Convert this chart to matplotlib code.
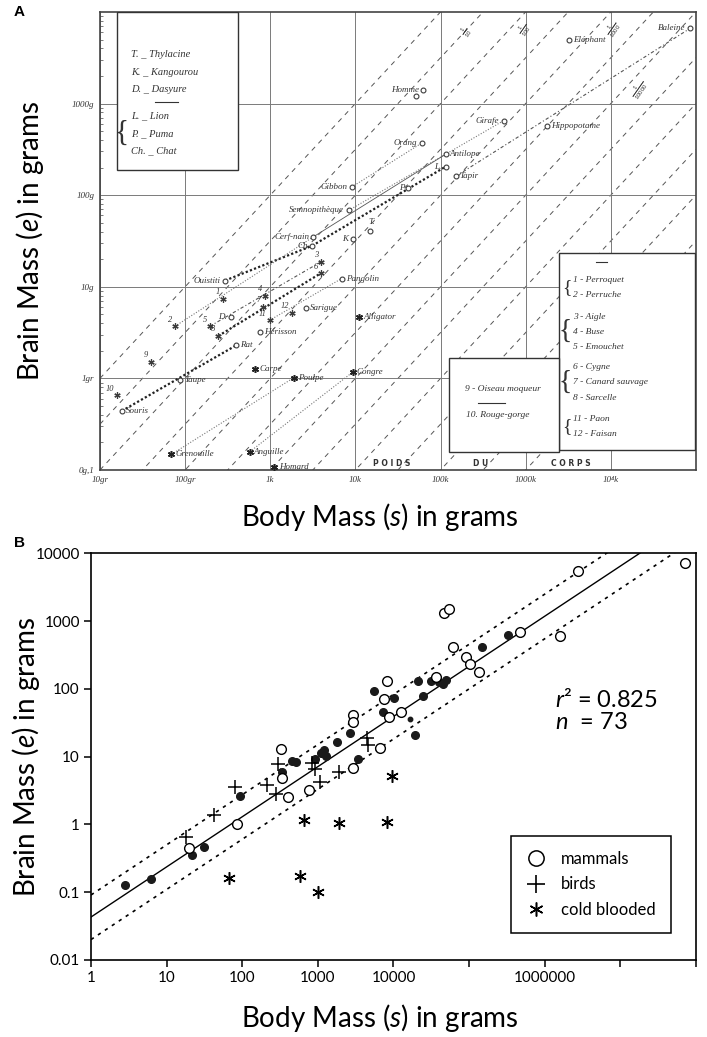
import numpy as np
import matplotlib.pyplot as plt
from matplotlib.lines import Line2D
from matplotlib.patches import Rectangle
from matplotlib.ticker import NullLocator, LogLocator

plt.rcParams['font.family'] = ['Lato', 'DejaVu Sans']
plt.rcParams['mathtext.fontset'] = 'custom'
plt.rcParams['mathtext.rm'] = 'Lato'
plt.rcParams['mathtext.it'] = 'Lato:italic'

# ---------------- Panel A : Dubois hand drawn chart ----------------
a_xticks = [10, 100, 1e3, 1e4, 1e5, 1e6, 1e7]
a_xtick_labels = ['10gr', '100gr', '1k', '10k', '100k', '1000k', '10⁴k']
a_yticks = [0.1, 1, 10, 100, 1000]
a_ytick_labels = ['0g,1', '1gr', '10g', '100g', '1000g']

mam_names = ['Baleine', 'Eléphant', 'Homme', '', 'Girafe', 'Hippopotame', 'Orang',
             'Antilope', 'L.', 'Tapir', 'Gibbon', 'P', 'Semnopithèque', 'T.', 'K',
             'Cerf-nain', 'Ch', 'Pangolin', 'Ouistiti', 'D.', 'Sarigue', 'Hérisson',
             'Rat', 'Taupe', 'Souris']
mam_body = [8.5e7, 3.2e6, 63000, 52000, 550000, 1.8e6, 60000, 115000, 115000, 150000,
            9100, 42000, 8300, 15000, 9300, 3200, 3100, 6900, 295, 350, 2600, 760,
            400, 87, 18]
mam_brain = [6600, 5000, 1410, 1200, 650, 575, 370, 280, 205, 160, 123, 120, 68, 41,
             33, 35, 28, 12.3, 11.7, 4.7, 5.9, 3.2, 2.3, 0.95, 0.44]

bird_names = ['1', '2', '3', '4', '5', '6', '7', '8', '9', '10', '11', '12']
bird_body = [275, 76, 3900, 870, 195, 3900, 830, 245, 40, 16, 980, 1800]
bird_brain = [7.4, 3.7, 18.6, 7.9, 3.7, 14, 6.0, 2.9, 1.5, 0.65, 4.3, 5.2]

cold_names = ['Alligator', 'Carpe', 'Poulpe', 'Congre', 'Grenouille', 'Anguille', 'Homard']
cold_body = [11000, 660, 1900, 9300, 69, 575, 1120]
cold_brain = [4.7, 1.26, 1.02, 1.17, 0.148, 0.158, 0.107]

ratio_logs = [-1, -1.5, -2, -2.5, -3, -3.5, -4, -4.5, -5, -5.5, -6, -6.5, -7]
ratio_labels = [r'$\frac{1}{10}$', r'$\frac{1}{100}$', r'$\frac{1}{1000}$', r'$\frac{1}{10000}$']

legend1_lines = ['T. _ Thylacine', 'K. _ Kangourou', 'D. _ Dasyure',
                 'L. _ Lion', 'P. _ Puma', 'Ch. _ Chat']
legend2_lines = ['1 - Perroquet', '2 - Perruche', '3 - Aigle', '4 - Buse', '5 - Emouchet',
                 '6 - Cygne', '7 - Canard sauvage', '8 - Sarcelle', '11 - Paon', '12 - Faisan']
legend3_lines = ['9 - Oiseau moqueur', '10. Rouge-gorge']

# ---------------- Panel B : scatter ----------------
open_body = [20, 86, 330, 340, 400, 760, 2900, 2950, 2900, 6700, 7400, 8100, 8700,
             12600, 36000, 46000, 55000, 61000, 91000, 103000, 135000, 470000,
             1.58e6, 2.75e6, 7.2e7]
open_brain = [0.45, 1.0, 13, 4.9, 2.5, 3.2, 6.7, 41, 32, 13.5, 72, 133, 38,
              45, 148, 1300, 1500, 415, 294, 230, 178, 700,
              605, 5600, 7300]

fill_body = [2.8, 6.2, 21.5, 31, 93, 340, 450, 510, 910, 1100, 1200, 1300, 1800, 2700,
             3400, 5500, 7200, 10200, 19500, 21400, 24500, 31000, 40500, 45000, 50000,
             148000, 326000]
fill_brain = [0.128, 0.155, 0.36, 0.46, 2.6, 6.0, 8.6, 8.3, 9.4, 11.2, 12.5, 10.3, 16.5, 22,
              9.2, 93, 45, 74, 21, 132, 80, 129, 125, 118, 137,
              410, 630]
small_body = [16600]
small_brain = [36]

birdB_body = [18, 42, 81, 210, 277, 294, 830, 910, 1070, 1900, 4500, 4600]
birdB_brain = [0.645, 1.4, 3.6, 3.8, 2.8, 7.9, 8.2, 6.6, 4.2, 6.0, 19, 15]

coldB_body = [67, 575, 1000, 660, 1900, 8100, 9500]
coldB_brain = [0.16, 0.174, 0.10, 1.16, 1.06, 1.1, 5.2]

fit_a, fit_b = 0.043, 0.74
band_upper, band_lower = 0.091, 0.020
b_xtick_labels = ['1', '10', '100', '1000', '10000', '', '1000000', '', '']
b_ytick_labels = ['0.01', '0.1', '1', '10', '100', '1000', '10000']

HAND = dict(family=['Liberation Serif', 'DejaVu Serif'], style='italic', color='#333333')
INK = '#3c3c3c'

fig = plt.figure(figsize=(7.07, 10.37), dpi=100)
axA = fig.add_axes([0.1414, 0.5468, 0.8430, 0.4417])
axB = fig.add_axes([0.1287, 0.0743, 0.8557, 0.3920])

# ---- panel A
axA.set_xscale('log')
axA.set_yscale('log')
axA.set_xlim(10, 1e8)
axA.set_ylim(0.1, 1e4)
axA.set_xticks(a_xticks)
axA.set_xticklabels(a_xtick_labels, fontsize=6.5, **HAND)
axA.set_yticks(a_yticks)
axA.set_yticklabels(a_ytick_labels, fontsize=6.5, **HAND)
axA.xaxis.set_minor_locator(NullLocator())
axA.yaxis.set_minor_locator(LogLocator(subs=np.arange(2, 10)))
axA.yaxis.set_minor_formatter(plt.NullFormatter())
axA.tick_params(which='major', length=0, pad=4)
axA.tick_params(axis='y', which='minor', direction='in', length=2, width=0.6, color='#666')
axA.grid(True, which='major', color='#7a7a7a', lw=0.7)
for s in axA.spines.values():
    s.set_color('#444')
    s.set_linewidth(1.2)

xx = np.array([10, 1e8])
for r in ratio_logs:
    axA.plot(xx, xx * 10 ** r, ls=(0, (5, 5)), lw=0.7, color='#555', zorder=1)

pts = {}
for n, x, y in zip(mam_names, mam_body, mam_brain):
    pts[n] = (x, y)
for n, x, y in zip(bird_names, bird_body, bird_brain):
    pts[n] = (x, y)
for n, x, y in zip(cold_names, cold_body, cold_brain):
    pts[n] = (x, y)

# lines joining related species
links = [('Souris', 'Rat', 'heavy'), ('8', '6', 'heavy'), ('Ouistiti', 'Ch', 'heavy'),
         ('Ch', 'L.', 'heavy'), ('Gibbon', 'Orang', 'light'),
         ('Semnopithèque', 'Girafe', 'light'), ('2', 'Cerf-nain', 'light'),
         ('11', 'Pangolin', 'light'), ('Anguille', 'Congre', 'light'),
         ('Grenouille', 'Poulpe', 'light'), ('Cerf-nain', 'Antilope', 'thin'),
         ('Tapir', 'Baleine', 'dashdot'), ('5', '3', 'dashdot')]
styles = {'heavy': dict(ls=(0, (1, 1)), lw=1.6, color='#222'),
          'light': dict(ls=(0, (1, 1.5)), lw=0.8, color='#777'),
          'thin': dict(ls='-', lw=0.6, color='#555'),
          'dashdot': dict(ls=(0, (3, 2, 1, 2)), lw=0.8, color='#555')}
for a, b, st in links:
    axA.plot([pts[a][0], pts[b][0]], [pts[a][1], pts[b][1]], zorder=2, **styles[st])

axA.plot(mam_body, mam_brain, 'o', ms=3.5, mfc='white', mec=INK, mew=0.8, zorder=4)
axA.plot(bird_body, bird_brain, ls='', marker=(6, 2, 0), ms=4.5, mec=INK, mew=0.9, zorder=4)
axA.plot(cold_body, cold_brain, ls='', marker=(6, 2, 0), ms=5, mec='#222', mew=1.1, zorder=4)

right_side = ['Eléphant', 'Hippopotame', 'Antilope', 'Tapir', 'Pangolin', 'Sarigue',
              'Hérisson', 'Rat', 'Taupe', 'Souris']
top_side = ['T.']
for n in mam_names:
    if not n:
        continue
    x, y = pts[n]
    if n in right_side:
        axA.annotate(n, (x, y), xytext=(3, 0), textcoords='offset points',
                     ha='left', va='center', fontsize=6.5, zorder=6, **HAND)
    elif n in top_side:
        axA.annotate(n, (x, y), xytext=(1, 3), textcoords='offset points',
                     ha='center', va='bottom', fontsize=6.5, zorder=6, **HAND)
    else:
        axA.annotate(n, (x, y), xytext=(-3, 0), textcoords='offset points',
                     ha='right', va='center', fontsize=6.5, zorder=6, **HAND)
for n in bird_names:
    x, y = pts[n]
    axA.annotate(n, (x, y), xytext=(-2, 2), textcoords='offset points',
                 ha='right', va='bottom', fontsize=6, zorder=6, **HAND)
for n in cold_names:
    x, y = pts[n]
    axA.annotate(n, (x, y), xytext=(3, 0), textcoords='offset points',
                 ha='left', va='center', fontsize=6.5, zorder=6, **HAND)

for lab, (tx, ty) in zip(ratio_labels, [(0.615, 0.955), (0.712, 0.962), (0.862, 0.962), (0.905, 0.83)]):
    axA.text(tx, ty, lab, transform=axA.transAxes, rotation=55, fontsize=6,
             ha='center', va='center', color='#333')

for word, tx in [('P O I D S', 0.49), ('D U', 0.638), ('C O R P S', 0.79)]:
    axA.text(tx, 0.004, word, transform=axA.transAxes, fontsize=5.5, fontweight='bold',
             family='DejaVu Sans', ha='center', va='bottom', color='#333')

# legend box 1
axA.add_patch(Rectangle((0.028, 0.655), 0.204, 0.345, transform=axA.transAxes,
                        fc='white', ec='#333', lw=1.0, zorder=5))
for txt, ty in zip(legend1_lines, [0.906, 0.868, 0.831, 0.773, 0.734, 0.697]):
    axA.text(0.052, ty, txt, transform=axA.transAxes, fontsize=7.5, va='center',
             zorder=6, **HAND)
axA.plot([0.092, 0.131], [0.804, 0.804], transform=axA.transAxes, color='#333', lw=0.8, zorder=6)
axA.text(0.047, 0.735, '{', transform=axA.transAxes, fontsize=21, ha='right', va='center',
         zorder=6, family='Liberation Serif', color='#333')

# legend box 2
axA.add_patch(Rectangle((0.770, 0.044), 0.229, 0.430, transform=axA.transAxes,
                        fc='white', ec='#333', lw=1.0, zorder=5))
for txt, ty in zip(legend2_lines, [0.415, 0.381, 0.333, 0.302, 0.268, 0.224, 0.191,
                                   0.157, 0.111, 0.079]):
    axA.text(0.793, ty, txt, transform=axA.transAxes, fontsize=6.8, va='center',
             zorder=6, **HAND)
axA.plot([0.833, 0.851], [0.455, 0.455], transform=axA.transAxes, color='#333', lw=0.8, zorder=6)
for by, fs in [(0.398, 14), (0.302, 20), (0.191, 20), (0.095, 14)]:
    axA.text(0.792, by, '{', transform=axA.transAxes, fontsize=fs, ha='right', va='center',
             zorder=6, family='Liberation Serif', color='#333')

# legend box 3
axA.add_patch(Rectangle((0.586, 0.040), 0.184, 0.2045, transform=axA.transAxes,
                        fc='white', ec='#333', lw=1.0, zorder=5))
axA.text(0.676, 0.176, legend3_lines[0], transform=axA.transAxes, fontsize=6.8,
         ha='center', va='center', zorder=6, **HAND)
axA.plot([0.634, 0.680], [0.147, 0.147], transform=axA.transAxes, color='#333', lw=0.8, zorder=6)
axA.text(0.668, 0.120, legend3_lines[1], transform=axA.transAxes, fontsize=6.8,
         ha='center', va='center', zorder=6, **HAND)

# ---- panel B
axB.set_xscale('log')
axB.set_yscale('log')
axB.set_xlim(1, 1e8)
axB.set_ylim(0.01, 1e4)
axB.set_xticks([10.0 ** i for i in range(9)])
axB.set_xticklabels(b_xtick_labels)
axB.set_yticks([10.0 ** i for i in range(-2, 5)])
axB.set_yticklabels(b_ytick_labels)
axB.xaxis.set_minor_locator(NullLocator())
axB.yaxis.set_minor_locator(NullLocator())
axB.tick_params(direction='out', length=5, width=1.1, labelsize=11, pad=3)
for s in axB.spines.values():
    s.set_linewidth(1.2)

xf = np.logspace(0, 8, 60)
axB.plot(xf, fit_a * xf ** fit_b, color='k', lw=1.0, zorder=2)
axB.plot(xf, band_upper * xf ** fit_b, color='k', lw=1.2, ls=(0, (2, 3)), zorder=2)
axB.plot(xf, band_lower * xf ** fit_b, color='k', lw=1.2, ls=(0, (2, 3)), zorder=2)

axB.plot(fill_body, fill_brain, 'o', ms=5.5, color='#1a1a1a', zorder=3)
axB.plot(small_body, small_brain, 'o', ms=3.2, color='#1a1a1a', zorder=3)
axB.plot(open_body, open_brain, 'o', ms=7, mfc='white', mec='k', mew=1.0, zorder=4)
axB.plot(birdB_body, birdB_brain, '+', ms=10, mec='k', mew=1.1, zorder=4)
axB.plot(coldB_body, coldB_brain, ls='', marker=(6, 2, 0), ms=9, mec='k', mew=1.1, zorder=4)

axB.text(0.767, 0.64, r'$r$² = 0.825', transform=axB.transAxes, fontsize=17,
         ha='left', va='center')
axB.text(0.767, 0.583, r'$n$  = 73', transform=axB.transAxes, fontsize=17,
         ha='left', va='center')

handles = [Line2D([], [], ls='', marker='o', ms=11, mfc='white', mec='k', mew=1.1),
           Line2D([], [], ls='', marker='+', ms=13, mec='k', mew=1.2),
           Line2D([], [], ls='', marker=(6, 2, 0), ms=10, mec='k', mew=1.1)]
leg = axB.legend(handles, ['mammals', 'birds', 'cold blooded'], loc='lower right',
                 bbox_to_anchor=(0.972, 0.047), frameon=True, fancybox=False,
                 edgecolor='k', framealpha=1, fontsize=12, borderpad=0.9,
                 labelspacing=0.55, handletextpad=0.9, handlelength=1.2)
leg.get_frame().set_linewidth(1.1)

# ---- shared labels
fig.text(380 / 707, 1 - 517 / 1037, 'Body Mass ($s$) in grams', fontsize=20,
         ha='center', va='center')
fig.text(380 / 707, 1 - 1018 / 1037, 'Body Mass ($s$) in grams', fontsize=20,
         ha='center', va='center')
fig.text(30 / 707, 1 - 241 / 1037, 'Brain Mass ($e$) in grams', fontsize=20,
         ha='center', va='center', rotation=90)
fig.text(26 / 707, 1 - 757 / 1037, 'Brain Mass ($e$) in grams', fontsize=20,
         ha='center', va='center', rotation=90)
fig.text(14 / 707, 1 - 12 / 1037, 'A', fontsize=11, fontweight='bold',
         family='Liberation Sans', ha='left', va='center')
fig.text(14 / 707, 1 - 543 / 1037, 'B', fontsize=11, fontweight='bold',
         family='Liberation Sans', ha='left', va='center')

fig.savefig('out.png', dpi=100)
